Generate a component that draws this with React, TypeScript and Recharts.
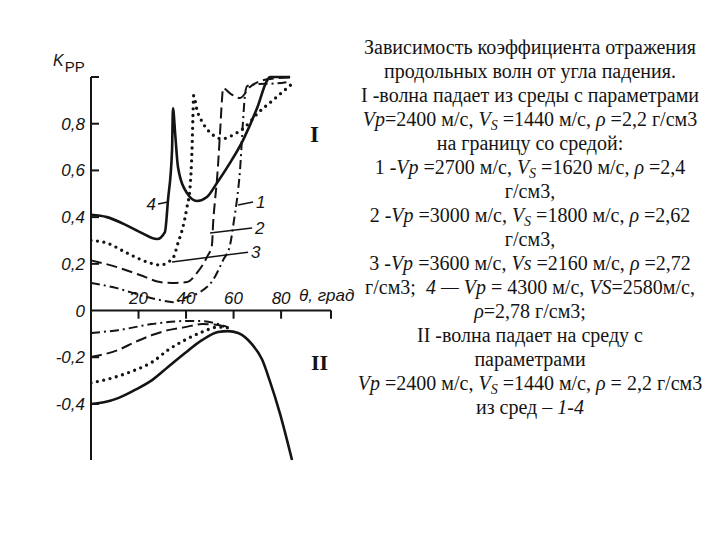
import React from 'react';
import { LineChart, Line, XAxis, YAxis, ReferenceLine } from 'recharts';

type P = { t: number; v: number };

// ---- Part I (wave incident from the 2400 m/s medium) ----
const curve1I: P[] = [
  { t: 0, v: 0.118 }, { t: 10.9, v: 0.096 }, { t: 20.6, v: 0.066 }, { t: 29.0, v: 0.045 },
  { t: 34.5, v: 0.036 }, { t: 40.4, v: 0.058 }, { t: 45.9, v: 0.079 }, { t: 51.3, v: 0.13 },
  { t: 55.6, v: 0.216 }, { t: 58.5, v: 0.28 }, { t: 60.2, v: 0.388 }, { t: 61.4, v: 0.473 },
  { t: 62.7, v: 0.6 }, { t: 64.0, v: 0.815 }, { t: 64.8, v: 0.923 }, { t: 65.7, v: 0.961 },
  { t: 70.3, v: 0.97 }, { t: 77.4, v: 0.972 }, { t: 83.8, v: 0.98 },
];
const curve2I: P[] = [
  { t: 0, v: 0.215 }, { t: 10.9, v: 0.186 }, { t: 20.6, v: 0.152 }, { t: 29.0, v: 0.122 },
  { t: 34.1, v: 0.118 }, { t: 40.4, v: 0.122 }, { t: 44.6, v: 0.161 }, { t: 48.8, v: 0.229 },
  { t: 50.9, v: 0.28 }, { t: 51.4, v: 0.375 }, { t: 52.2, v: 0.473 }, { t: 53.0, v: 0.559 },
  { t: 54.3, v: 0.76 }, { t: 55.1, v: 0.9 }, { t: 55.6, v: 0.952 }, { t: 58.5, v: 0.93 },
  { t: 62.7, v: 0.91 }, { t: 66.9, v: 0.957 }, { t: 74.1, v: 0.99 }, { t: 83.8, v: 0.998 },
];
const curve3I: P[] = [
  { t: 0, v: 0.3 }, { t: 6.7, v: 0.289 }, { t: 15.2, v: 0.246 }, { t: 23.6, v: 0.208 },
  { t: 29.0, v: 0.195 }, { t: 34.5, v: 0.225 }, { t: 36.6, v: 0.289 }, { t: 38.7, v: 0.358 },
  { t: 40.4, v: 0.443 }, { t: 41.7, v: 0.529 }, { t: 42.5, v: 0.687 }, { t: 42.9, v: 0.829 },
  { t: 43.2, v: 0.92 }, { t: 44.6, v: 0.859 }, { t: 47.1, v: 0.803 }, { t: 51.3, v: 0.752 },
  { t: 55.1, v: 0.735 }, { t: 59.8, v: 0.752 }, { t: 64.8, v: 0.786 }, { t: 70.3, v: 0.846 },
  { t: 76.6, v: 0.901 }, { t: 85.0, v: 0.974 },
];
const curve4I: P[] = [
  { t: 0, v: 0.41 }, { t: 6.7, v: 0.4 }, { t: 13.5, v: 0.372 }, { t: 20.6, v: 0.336 },
  { t: 27.8, v: 0.306 }, { t: 31.1, v: 0.336 }, { t: 32.4, v: 0.473 }, { t: 34.1, v: 0.686 },
  { t: 34.5, v: 0.866 }, { t: 35.4, v: 0.76 }, { t: 36.6, v: 0.615 }, { t: 40.4, v: 0.503 },
  { t: 44.6, v: 0.469 }, { t: 48.8, v: 0.486 }, { t: 53.0, v: 0.546 }, { t: 58.5, v: 0.632 },
  { t: 64.0, v: 0.73 }, { t: 69.9, v: 0.867 }, { t: 74.1, v: 0.985 }, { t: 75.3, v: 1.0 },
  { t: 83.8, v: 1.0 },
];

// ---- Part II (wave incident onto the 2400 m/s medium) ----
const curve1II: P[] = [
  { t: 0, v: -0.096 }, { t: 11.4, v: -0.084 }, { t: 25.7, v: -0.058 }, { t: 39.6, v: -0.045 },
  { t: 46.7, v: -0.045 }, { t: 53.5, v: -0.058 }, { t: 57.7, v: -0.071 },
];
const curve2II: P[] = [
  { t: 0, v: -0.199 }, { t: 11.4, v: -0.169 }, { t: 18.5, v: -0.135 }, { t: 25.7, v: -0.105 },
  { t: 32.4, v: -0.084 }, { t: 39.6, v: -0.071 }, { t: 46.7, v: -0.058 }, { t: 53.5, v: -0.062 },
  { t: 56.4, v: -0.071 },
];
const curve3II: P[] = [
  { t: 0, v: -0.31 }, { t: 8.8, v: -0.289 }, { t: 18.5, v: -0.255 }, { t: 25.7, v: -0.221 },
  { t: 32.4, v: -0.169 }, { t: 39.6, v: -0.126 }, { t: 46.7, v: -0.092 }, { t: 53.5, v: -0.071 },
  { t: 59.0, v: -0.075 },
];
const curve4II: P[] = [
  { t: 0, v: -0.4 }, { t: 5.9, v: -0.392 }, { t: 11.4, v: -0.375 }, { t: 18.5, v: -0.34 },
  { t: 25.7, v: -0.298 }, { t: 32.4, v: -0.242 }, { t: 39.6, v: -0.182 }, { t: 46.7, v: -0.127 },
  { t: 53.5, v: -0.092 }, { t: 57.7, v: -0.088 }, { t: 61.9, v: -0.096 }, { t: 67.8, v: -0.145 },
  { t: 72.0, v: -0.21 }, { t: 75.2, v: -0.3 }, { t: 79.5, v: -0.44 }, { t: 84.6, v: -0.64 },
];

const xTicks = [20, 40, 60, 80];
const xMax = 101;
const yTicks = [-0.4, -0.2, 0, 0.2, 0.4, 0.6, 0.8, 1.0];
const yDomain: [number, number] = [-0.64, 1.0];

const curveLabels = ['1', '2', '3', '4'];
const leaderEnds = [
  [{ t: 61.9, v: 0.452 }, { t: 68.2, v: 0.465 }],
  [{ t: 50.1, v: 0.332 }, { t: 67.8, v: 0.353 }],
  [{ t: 34.1, v: 0.208 }, { t: 66.1, v: 0.25 }],
  [{ t: 28.2, v: 0.456 }, { t: 32.4, v: 0.465 }],
];

const INK = '#141414';
const sansFont = "'Liberation Sans Narrow', 'Liberation Sans', Arial, sans-serif";
const serifFont = "'Liberation Serif', 'Times New Roman', serif";
const labelStyle: React.CSSProperties = { fontFamily: sansFont, fontStyle: 'italic', fontSize: 17, fill: INK };

const fmt = (v: number) => (v === 0 ? '0' : v.toFixed(1).replace('.', ','));

const YTick = (props: any) => {
  const { x, y, payload } = props;
  const v = payload.value as number;
  const axisX = x + 6;
  return (
    <g>
      {v !== 0 && <line x1={axisX} x2={axisX + 8} y1={y} y2={y} stroke={INK} strokeWidth={2} />}
      {v !== 1 && (
        <text x={x} y={y} dy={6} textAnchor="end" style={labelStyle}>
          {fmt(v)}
        </text>
      )}
    </g>
  );
};

const xTickLabel = (text: string) => (props: any) => {
  const vb = props.viewBox || {};
  const cx = (vb.x ?? 0) + (vb.width ?? 0) / 2;
  return (
    <text x={cx} y={(vb.y ?? 0) - 7} textAnchor="middle" style={labelStyle}>
      {text}
    </text>
  );
};

const leaderLabel = (text: string, left: boolean) => (props: any) => {
  const vb = props.viewBox || {};
  const x = left ? (vb.x ?? 0) - 2 : (vb.x ?? 0) + (vb.width ?? 0) + 3;
  const y = left ? (vb.y ?? 0) + 2 : vb.y ?? 0;
  return (
    <text x={x} y={y + 6} textAnchor={left ? 'end' : 'start'} style={labelStyle}>
      {text}
    </text>
  );
};

const styles = {
  solid: { stroke: INK, strokeWidth: 2.6 },
  dotted: { stroke: INK, strokeWidth: 3.3, strokeDasharray: '0 6.5', strokeLinecap: 'round' as const },
  dashed: { stroke: INK, strokeWidth: 2, strokeDasharray: '11 5' },
  dashDot: { stroke: INK, strokeWidth: 2, strokeDasharray: '9 4 2 4' },
};

const subStyle: React.CSSProperties = { fontSize: '0.7em', lineHeight: 0, verticalAlign: '-0.3em', fontStyle: 'italic' };
const VS = () => (
  <>
    <i>V</i>
    <sub style={subStyle}>S</sub>
  </>
);

export default function App() {
  const series: { data: P[]; st: any }[] = [
    { data: curve1I, st: styles.dashDot },
    { data: curve2I, st: styles.dashed },
    { data: curve3I, st: styles.dotted },
    { data: curve4I, st: styles.solid },
    { data: curve1II, st: styles.dashDot },
    { data: curve2II, st: styles.dashed },
    { data: curve3II, st: styles.dotted },
    { data: curve4II, st: styles.solid },
  ];
  return (
    <div style={{ position: 'absolute', left: 0, top: 0, width: 720, height: 540, background: '#fff', overflow: 'hidden' }}>
      <LineChart width={720} height={540} margin={{ top: 77, right: 389, bottom: 80, left: 41 }}>
        <XAxis type="number" dataKey="t" domain={[0, xMax]} hide allowDataOverflow />
        <YAxis
          type="number"
          dataKey="v"
          domain={yDomain}
          ticks={yTicks}
          width={50}
          interval={0}
          axisLine={{ stroke: INK, strokeWidth: 2 }}
          tickLine={false}
          tickSize={0}
          tickMargin={6}
          tick={<YTick />}
        />
        <ReferenceLine y={0} stroke={INK} strokeWidth={2} />
        {xTicks.map((t) => (
          <ReferenceLine
            key={'xt' + t}
            segment={[{ x: t, y: 0 }, { x: t, y: -0.035 }]}
            stroke={INK}
            strokeWidth={2}
            label={xTickLabel(String(t))}
          />
        ))}
        <ReferenceLine segment={[{ x: xMax, y: 0 }, { x: xMax, y: -0.035 }]} stroke={INK} strokeWidth={2} />
        {leaderEnds.map((seg, i) => (
          <ReferenceLine
            key={'ld' + i}
            segment={[{ x: seg[0].t, y: seg[0].v }, { x: seg[1].t, y: seg[1].v }]}
            stroke={INK}
            strokeWidth={1.5}
            label={leaderLabel(curveLabels[i], curveLabels[i] === '4')}
          />
        ))}
        {series.map((s, i) => (
          <Line
            key={i}
            data={s.data}
            dataKey="v"
            type="monotone"
            dot={false}
            activeDot={false}
            isAnimationActive={false}
            fill="none"
            {...s.st}
          />
        ))}
      </LineChart>

      {/* axis titles and part labels */}
      <div style={{ position: 'absolute', left: 53, top: 52, fontFamily: sansFont, fontStyle: 'italic', fontSize: 16, color: INK, whiteSpace: 'nowrap' }}>
        K<span style={{ fontSize: 15, position: 'relative', top: 6, fontStyle: 'normal', marginLeft: 1 }}>PP</span>
      </div>
      <div style={{ position: 'absolute', left: 299, top: 286, fontFamily: sansFont, fontStyle: 'italic', fontSize: 17, color: INK, whiteSpace: 'nowrap' }}>
        θ, град
      </div>
      <div style={{ position: 'absolute', left: 310, top: 122, fontFamily: serifFont, fontWeight: 700, fontSize: 23, color: INK }}>I</div>
      <div style={{ position: 'absolute', left: 311, top: 350, fontFamily: serifFont, fontWeight: 700, fontSize: 22, color: INK }}>II</div>

      {/* caption */}
      <div
        style={{
          position: 'absolute',
          left: 340,
          top: 35,
          width: 380,
          textAlign: 'center',
          fontFamily: serifFont,
          fontSize: 20,
          lineHeight: '24px',
          color: INK,
          whiteSpace: 'nowrap',
        }}
      >
        <div>Зависимость коэффициента отражения</div>
        <div>продольных волн от угла падения.</div>
        <div>I -волна падает из среды с параметрами</div>
        <div>
          <i>Vp</i>=2400 м/с, <VS /> =1440 м/с, <i>ρ</i> =2,2 г/см3
        </div>
        <div>на границу со средой:</div>
        <div>
          1 -<i>Vp</i> =2700 м/с, <VS /> =1620 м/с, <i>ρ</i> =2,4
        </div>
        <div>г/см3,</div>
        <div>
          2 -<i>Vp</i> =3000 м/с, <VS /> =1800 м/с, <i>ρ</i> =2,62
        </div>
        <div>г/см3,</div>
        <div>
          3 -<i>Vp</i> =3600 м/с, <i>Vs</i> =2160 м/с, <i>ρ</i> =2,72
        </div>
        <div>
          г/см3;&nbsp; <i>4 — Vp</i> = 4300 м/с, <i>VS</i>=2580м/с,
        </div>
        <div>
          <i>ρ</i>=2,78 г/см3;
        </div>
        <div>II -волна падает на среду с</div>
        <div>параметрами</div>
        <div>
          <i>Vp</i> =2400 м/с, <VS /> =1440 м/с, <i>ρ</i> = 2,2 г/см3
        </div>
        <div>
          из сред – <i>1-4</i>
        </div>
      </div>
    </div>
  );
}
